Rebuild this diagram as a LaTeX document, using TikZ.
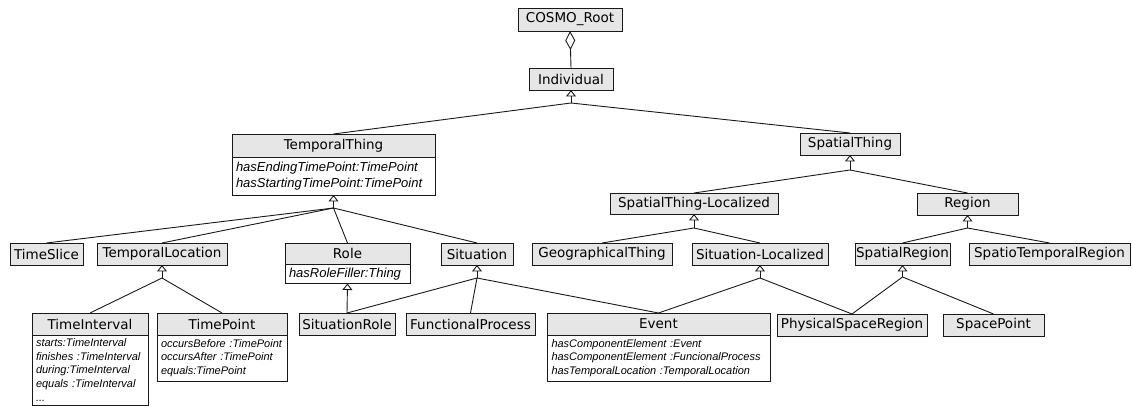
\documentclass[tikz,border=0pt]{standalone}
\usepackage{fontspec}
\setmainfont{DejaVu Sans}
\newfontfamily\attrfont{Liberation Sans}
\usetikzlibrary{arrows.meta,calc}
\definecolor{edge}{RGB}{25,25,25}
\definecolor{hdrfill}{RGB}{230,230,230}

\begin{document}
\begin{tikzpicture}[x=1pt,y=-1pt,
  every node/.style={inner sep=0pt, outer sep=0pt},
  hdr/.style={draw=edge, fill=hdrfill, line width=0.9pt, minimum height=22pt,
    font=\fontsize{13.5}{15}\selectfont, text=black},
  attrs/.style={draw=edge, fill=white, line width=0.9pt, anchor=north, align=left,
    inner xsep=4pt, font=\attrfont\itshape\fontsize{13}{16.5}\selectfont},
  smallattrs/.style={attrs, font=\attrfont\itshape\fontsize{11}{13.8}\selectfont},
  link/.style={draw=edge, line width=0.9pt},
  isa/.style={link, -{Triangle[open, width=10pt, length=6.5pt]}},
  partof/.style={link, -{Diamond[open, width=10pt, length=19pt]}},
]
\useasboundingbox (0,0) rectangle (1133,406);

% ---- top of the hierarchy
\node[hdr, minimum width=104pt, minimum height=23pt] (root) at (570,19.5) {COSMO\_Root};
\node[hdr, minimum width=84pt] (ind) at (571,79) {Individual};

% ---- second level
\node[hdr, minimum width=203pt, minimum height=23pt] (tt) at (333.5,145.5) {TemporalThing};
\node[attrs, text width=195pt, minimum height=38pt] (tt-a) at (tt.south)
  {hasEndingTimePoint:TimePoint\\hasStartingTimePoint:TimePoint};
\node[hdr, minimum width=100pt] (st) at (850,144) {SpatialThing};

% ---- spatial branch
\node[hdr, minimum width=168pt, minimum height=21pt] (stl) at (694,203.5) {SpatialThing-Localized};
\node[hdr, minimum width=101pt] (reg) at (967.5,204) {Region};

% ---- third row
\node[hdr, minimum width=73pt] (ts) at (46.5,254) {TimeSlice};
\node[hdr, minimum width=130pt] (tl) at (162,254) {TemporalLocation};
\node[hdr, minimum width=125pt, minimum height=21pt] (role) at (347.5,253.5) {Role};
\node[attrs, text width=117pt, minimum height=19.5pt] (role-a) at (role.south) {hasRoleFiller:Thing};
\node[hdr, minimum width=72pt] (sit) at (477,254) {Situation};
\node[hdr, minimum width=140pt] (geo) at (602,254) {GeographicalThing};
\node[hdr, minimum width=136pt] (sl) at (760,254) {Situation-Localized};
\node[hdr, minimum width=95pt] (sr) at (902.5,254) {SpatialRegion};
\node[hdr, minimum width=161pt] (str) at (1049.5,254) {SpatioTemporalRegion};

% ---- bottom row
\node[hdr, minimum width=116pt] (ti) at (90,324) {TimeInterval};
\node[smallattrs, text width=108pt, minimum height=70pt] (ti-a) at (ti.south)
  {starts:TimeInterval\\finishes :TimeInterval\\during:TimeInterval\\equals :TimeInterval\\...};
\node[hdr, minimum width=130pt] (tp) at (222,324) {TimePoint};
\node[smallattrs, text width=122pt, minimum height=46pt] (tp-a) at (tp.south)
  {occursBefore :TimePoint\\occursAfter :TimePoint\\equals:TimePoint};
\node[hdr, minimum width=96pt] (sro) at (347,324) {SituationRole};
\node[hdr, minimum width=129pt] (fp) at (470.5,324) {FunctionalProcess};
\node[hdr, minimum width=223pt] (ev) at (658.5,324) {Event};
\node[smallattrs, text width=214pt, minimum height=46pt, inner xsep=4.5pt] (ev-a) at (ev.south)
  {hasComponentElement :Event\\hasComponentElement :FuncionalProcess\\hasTemporalLocation :TemporalLocation};
\node[hdr, minimum width=150pt] (psr) at (852,325) {PhysicalSpaceRegion};
\node[hdr, minimum width=101pt] (sp) at (993.5,325) {SpacePoint};

% ---- aggregation
\draw[partof] (ind.north) -- (root.south);

% ---- generalisation junctions
\coordinate (j-ind) at ($(ind.south)+(0,13)$);
\coordinate (j-tt)  at ($(tt-a.south)+(0,13)$);
\coordinate (j-st)  at ($(st.south)+(0,15)$);
\coordinate (j-stl) at ($(stl.south)+(0,14)$);
\coordinate (j-reg) at ($(reg.south)+(0,13)$);
\coordinate (j-tl)  at ($(tl.south)+(0,13)$);
\coordinate (j-sit) at ($(sit.south)+(0,13)$);
\coordinate (j-sl)  at ($(sl.south)+(0,13)$);
\coordinate (j-sr)  at ($(sr.south)+(0,12)$);

\draw[isa] (j-ind) -- (ind.south);
\draw[link] (tt.north) -- (j-ind);
\draw[link] (st.north) -- (j-ind);

\draw[isa] (j-tt) -- (tt-a.south);
\draw[link] (ts.north) -- (j-tt);
\draw[link] (tl.north) -- (j-tt);
\draw[link] (role.north) -- (j-tt);
\draw[link] (sit.north) -- (j-tt);

\draw[isa] (j-st) -- (st.south);
\draw[link] (stl.north) -- (j-st);
\draw[link] (reg.north) -- (j-st);

\draw[isa] (j-stl) -- (stl.south);
\draw[link] (geo.north) -- (j-stl);
\draw[link] (sl.north) -- (j-stl);

\draw[isa] (j-reg) -- (reg.south);
\draw[link] (sr.north) -- (j-reg);
\draw[link] (str.north) -- (j-reg);

\draw[isa] (j-tl) -- (tl.south);
\draw[link] (ti.north) -- (j-tl);
\draw[link] (tp.north) -- (j-tl);

\draw[isa] (sro.north) -- (role-a.south);

\draw[isa] (j-sit) -- (sit.south);
\draw[link] (sro.north) -- (j-sit);
\draw[link] (fp.north) -- (j-sit);
\draw[link] (ev.north) -- (j-sit);

\draw[isa] (j-sl) -- (sl.south);
\draw[link] (ev.north) -- (j-sl);
\draw[link] (psr.north) -- (j-sl);

\draw[isa] (j-sr) -- (sr.south);
\draw[link] (psr.north) -- (j-sr);
\draw[link] (sp.north) -- (j-sr);
\end{tikzpicture}
\end{document}
